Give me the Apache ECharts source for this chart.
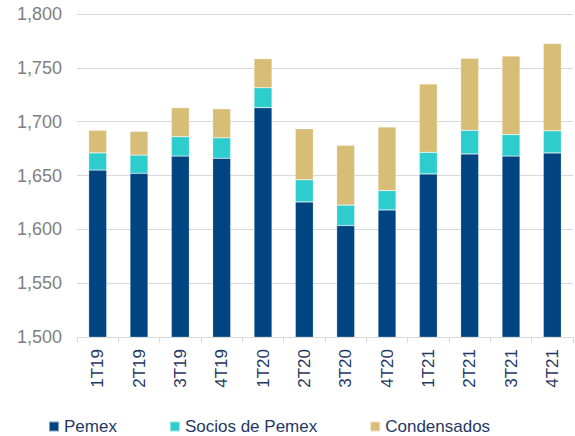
<!DOCTYPE html>
<html>
<head>
<meta charset="utf-8">
<script src="https://cdn.jsdelivr.net/npm/echarts@6/dist/echarts.min.js"></script>
<style>
  html, body { margin: 0; padding: 0; background: #fff; }
  #chart { width: 575px; height: 436px; }
</style>
</head>
<body>
<div id="chart"></div>
<script>
// quarterly production, thousand barrels per day
const quarters = ['1T19', '2T19', '3T19', '4T19', '1T20', '2T20', '3T20', '4T20', '1T21', '2T21', '3T21', '4T21'];
const pemex = [1655, 1652, 1668, 1666, 1713, 1625.5, 1603.5, 1618, 1651.5, 1670, 1668, 1671];
const socios = [16, 17, 18, 19, 18.5, 20.5, 19, 18, 20, 22, 20, 20.5];
const condensados = [21, 22, 27, 27, 27, 47.5, 55.5, 59, 63.5, 67, 73, 81];

const FONT = 'Liberation Sans, Arial, sans-serif';
const GRID_LINE = '#d9d9d9';
const NAVY = '#1f3864';

const chart = echarts.init(document.getElementById('chart'), null, { renderer: 'svg' });

const bar = (name, data, color) => ({
  name, type: 'bar', stack: 'total', data,
  barWidth: 18,
  itemStyle: { color, borderColor: 'rgba(255,255,255,0.5)', borderWidth: 0.5 },
});

chart.setOption({
  animation: false,
  textStyle: { fontFamily: FONT },
  grid: { left: 77, right: 2, top: 14, bottom: 99 },
  legend: {
    left: 48, top: 418, padding: 0,
    icon: 'rect', itemWidth: 10, itemHeight: 10, itemGap: 52,
    textStyle: { color: NAVY, fontSize: 17, fontFamily: FONT },
    data: ['Pemex', 'Socios de Pemex', 'Condensados'],
  },
  xAxis: {
    type: 'category', data: quarters,
    axisLine: { lineStyle: { color: GRID_LINE } },
    axisTick: { show: true, length: 6, lineStyle: { color: GRID_LINE } },
    axisLabel: { rotate: 90, color: NAVY, fontSize: 17, margin: 12, fontFamily: FONT },
  },
  yAxis: {
    type: 'value', min: 1500, max: 1800, interval: 50,
    axisLine: { show: false },
    axisTick: { show: false },
    splitLine: { lineStyle: { color: GRID_LINE, width: 1 } },
    axisLabel: {
      color: '#7f7f7f', fontSize: 18, margin: 15, fontFamily: FONT,
      formatter: v => v.toLocaleString('en-US'),
    },
  },
  series: [
    bar('Pemex', pemex, '#004481'),
    bar('Socios de Pemex', socios, '#2ecdcd'),
    bar('Condensados', condensados, '#d8bd77'),
  ],
});
</script>
</body>
</html>
